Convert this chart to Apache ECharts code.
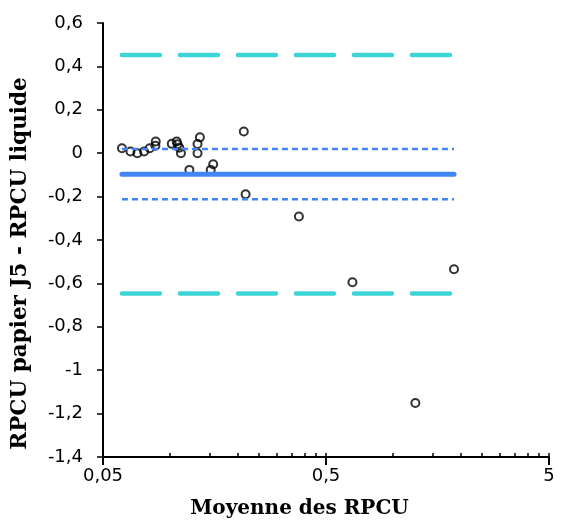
<!DOCTYPE html>
<html>
<head>
<meta charset="utf-8">
<script src="https://cdn.jsdelivr.net/npm/echarts@6/dist/echarts.min.js"></script>
<style>
  html, body { margin: 0; padding: 0; background: #fff; }
  #chart { width: 564px; height: 527px; }
</style>
</head>
<body>
<div id="chart"></div>
<script>
// moyenne des deux mesures (axe x, log) et difference papier J5 - liquide
const meanVals = [0.0608, 0.0664, 0.0713, 0.0764, 0.081, 0.0859, 0.0862, 0.1017,
  0.107, 0.108, 0.110, 0.1118, 0.122, 0.1327, 0.1327, 0.136, 0.152, 0.156,
  0.214, 0.218, 0.378, 0.657, 1.258, 1.875];
const diffVals = [0.023, 0.0075, 0.0, 0.0075, 0.023, 0.034, 0.054, 0.043,
  0.054, 0.041, 0.025, 0.0, -0.077, 0.042, 0.0, 0.073, -0.077, -0.051,
  0.100, -0.189, -0.292, -0.595, -1.151, -0.535];

// biais, intervalle de confiance du biais, limites d'agrement
const bias = -0.097;
const biasCI = [0.019, -0.212];
const limits = [0.452, -0.646];

const xMajorTicks = [0.05, 0.5, 5];
const xMinorTicks = [0.1, 0.15, 0.2, 0.25, 0.3, 0.35, 0.4, 0.45,
  1, 1.5, 2, 2.5, 3, 3.5, 4, 4.5];

const xMin = Math.min(...meanVals);
const xMax = Math.max(...meanVals);
const hLine = y => [[xMin, y], [xMax, y]];

const fmt = v => String(Number(v.toPrecision(3))).replace('.', ',');

const cyan = '#3dd4d6';
const blue = '#4485f5';

const chart = echarts.init(document.getElementById('chart'));
chart.setOption({
  animation: false,
  grid: { left: 103, right: 15, top: 23, bottom: 70, containLabel: false },
  xAxis: [
    {
      type: 'log',
      logBase: 10,
      min: 0.05,
      max: 5,
      name: 'Moyenne des RPCU',
      nameLocation: 'middle',
      nameGap: 42,
      nameTextStyle: {
        fontFamily: 'DejaVu Serif', fontWeight: 'bold', fontSize: 20,
        color: '#000', padding: [0, 53, 0, 0]
      },
      axisLine: { onZero: false, lineStyle: { color: '#000', width: 2 } },
      axisTick: { inside: false, length: 8, customValues: xMajorTicks, lineStyle: { color: '#000', width: 2 } },
      axisLabel: {
        customValues: xMajorTicks, margin: 10, fontFamily: 'DejaVu Sans',
        fontSize: 18, color: '#000', formatter: fmt
      },
      splitLine: { show: false },
      minorTick: { show: false }
    },
    {
      type: 'log',
      logBase: 10,
      min: 0.05,
      max: 5,
      position: 'bottom',
      axisLine: { show: false, onZero: false },
      axisTick: { inside: true, length: 4, customValues: xMajorTicks.concat(xMinorTicks), lineStyle: { color: '#000', width: 1.5 } },
      axisLabel: { show: false },
      splitLine: { show: false }
    }
  ],
  yAxis: {
    type: 'value',
    min: -1.4,
    max: 0.6,
    interval: 0.2,
    name: 'RPCU papier J5 - RPCU liquide',
    nameLocation: 'middle',
    nameGap: 72,
    nameTextStyle: {
      fontFamily: 'DejaVu Serif', fontWeight: 'bold', fontSize: 21.5,
      color: '#000', padding: [0, 47, 0, 0]
    },
    axisLine: { show: true, onZero: false, lineStyle: { color: '#000', width: 2 } },
    axisTick: { show: true, inside: false, length: 6, lineStyle: { color: '#000', width: 1.5 } },
    axisLabel: {
      margin: 20, fontFamily: 'DejaVu Sans', fontSize: 18, color: '#000',
      formatter: v => String(Math.round(v * 10) / 10).replace('.', ',')
    },
    splitLine: { show: false }
  },
  series: [
    {
      type: 'line', data: hLine(limits[0]), symbol: 'none', silent: true,
      lineStyle: { color: cyan, width: 4.5, type: [38, 20], cap: 'round' }
    },
    {
      type: 'line', data: hLine(limits[1]), symbol: 'none', silent: true,
      lineStyle: { color: cyan, width: 4.5, type: [38, 20], cap: 'round' }
    },
    {
      type: 'line', data: hLine(biasCI[0]), symbol: 'none', silent: true,
      lineStyle: { color: blue, width: 2.5, type: [6, 4] }
    },
    {
      type: 'line', data: hLine(biasCI[1]), symbol: 'none', silent: true,
      lineStyle: { color: blue, width: 2.5, type: [6, 4] }
    },
    {
      type: 'line', data: hLine(bias), symbol: 'none', silent: true,
      lineStyle: { color: blue, width: 5, cap: 'round' }
    },
    {
      type: 'scatter',
      data: meanVals.map((m, i) => [m, diffVals[i]]),
      symbol: 'circle',
      symbolSize: 8,
      itemStyle: { color: 'rgba(0,0,0,0)', borderColor: '#000', borderWidth: 2 }
    }
  ]
});
</script>
</body>
</html>
